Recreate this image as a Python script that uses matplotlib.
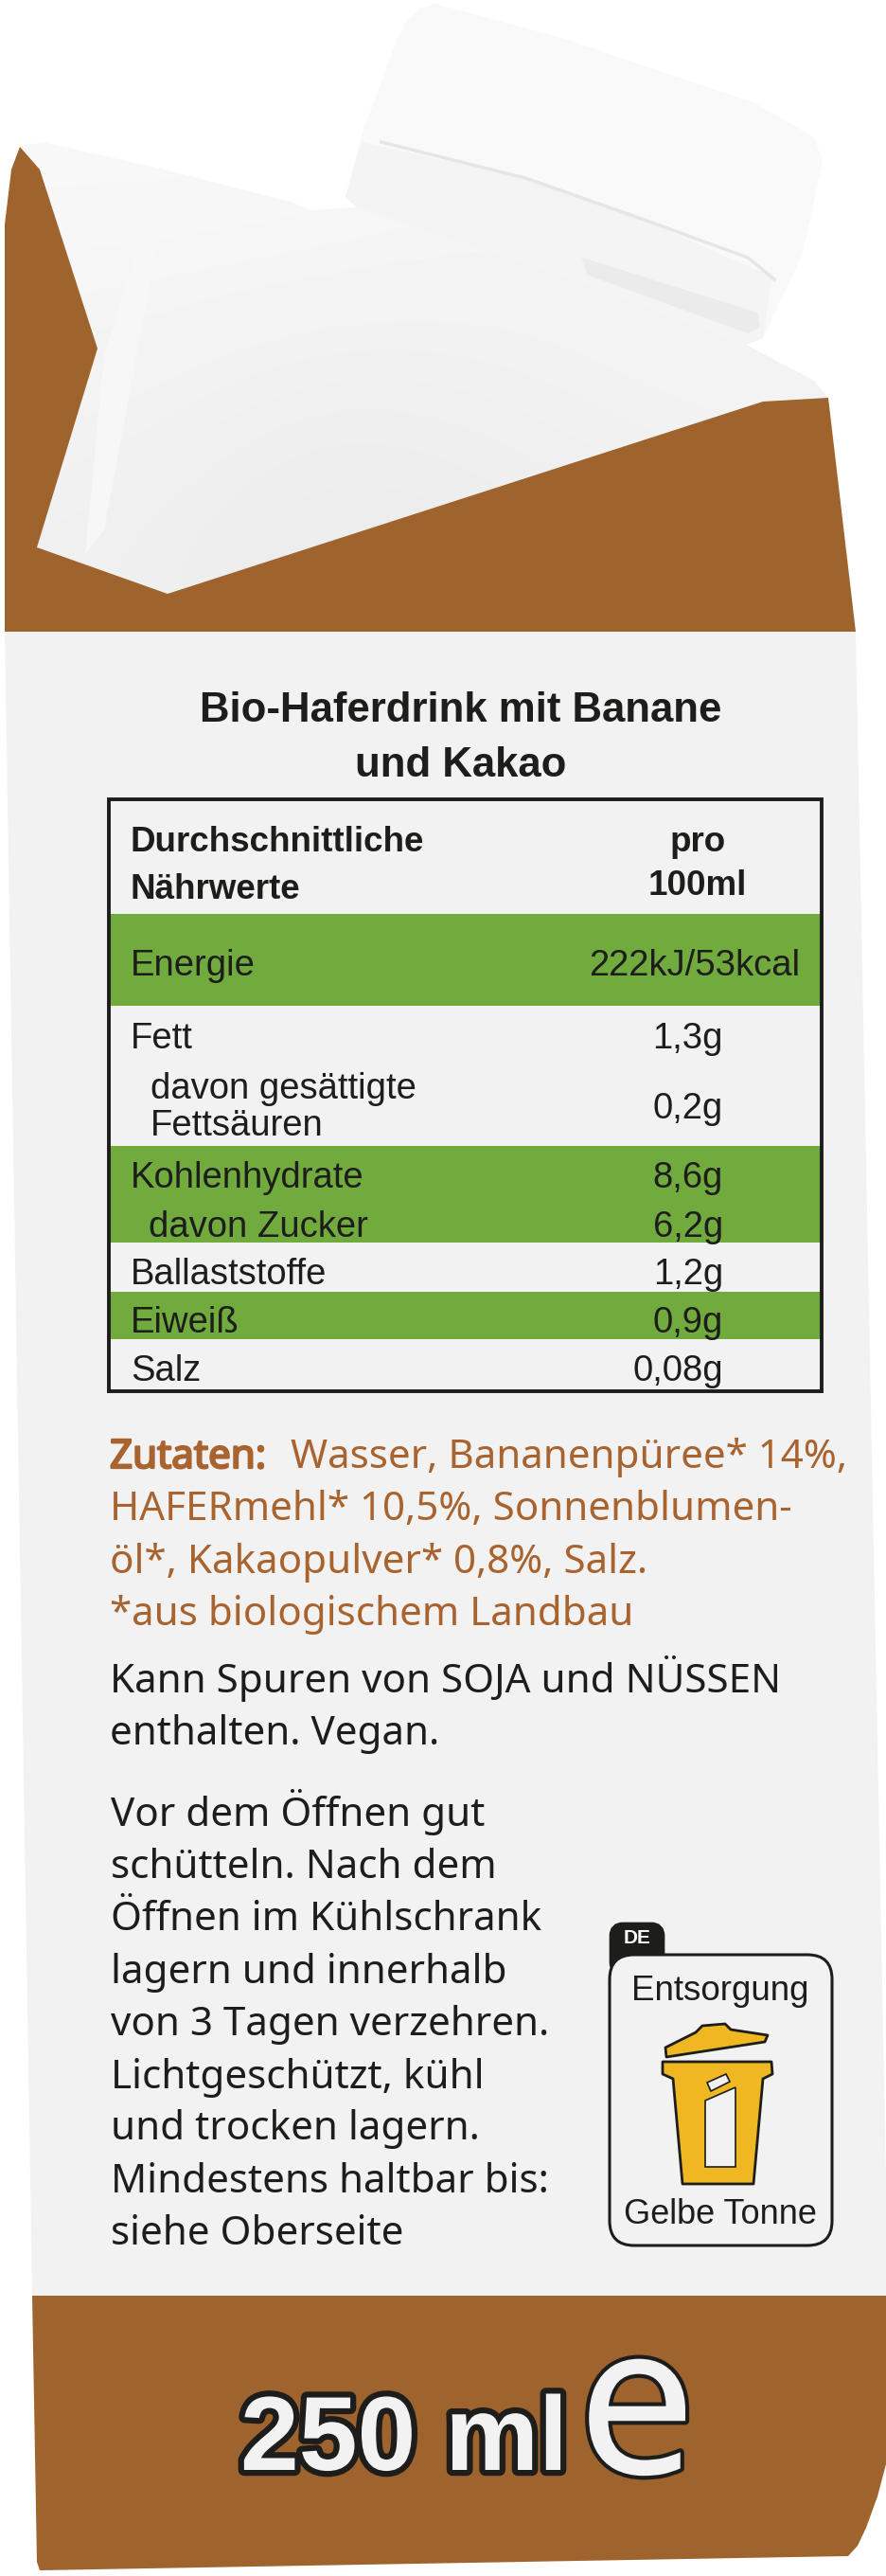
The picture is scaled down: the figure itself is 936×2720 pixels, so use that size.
import matplotlib
matplotlib.use("Agg")
import matplotlib.pyplot as plt
import matplotlib.patheffects as pe
from matplotlib.patches import Polygon, Rectangle, FancyBboxPatch

BROWN = "#9f632e"
GREEN = "#72ab3d"
DARK = "#1d1d1b"
BODY = "#f2f2f2"
ORANGE = "#a8632f"
YELLOW = "#efb722"

titel = ["Bio-Haferdrink mit Banane", "und Kakao"]
naehrwerte = ["Energie", "Fett", "Kohlenhydrate", "davon Zucker", "Ballaststoffe", "Eiweiß", "Salz"]
werte = ["222kJ/53kcal", "1,3g", "8,6g", "6,2g", "1,2g", "0,9g", "0,08g"]
zutaten = ["HAFERmehl* 10,5%, Sonnenblumen-", "öl*, Kakaopulver* 0,8%, Salz.", "*aus biologischem Landbau"]
hinweis = ["Kann Spuren von SOJA und NÜSSEN", "enthalten. Vegan."]
lagerung = ["Vor dem Öffnen gut", "schütteln. Nach dem", "Öffnen im Kühlschrank", "lagern und innerhalb",
            "von 3 Tagen verzehren.", "Lichtgeschützt, kühl", "und trocken lagern.",
            "Mindestens haltbar bis:", "siehe Oberseite"]

# pixel layout of the label (text baselines)
zeilen_y = [1030, 1107, 1254, 1306, 1356, 1407, 1458]
zeilen_x = [138, 138, 138, 157, 138, 138, 138]
gruen_von = [965, 1210, 1364]
gruen_bis = [1062, 1312, 1414]
zutaten_y = [1605, 1661, 1716]
hinweis_y = [1787, 1842]
lagerung_y = [1928, 1983, 2038, 2094, 2149, 2205, 2259, 2315, 2370]

# grey levels across the flap, top to bottom
flap_grau = [[0.97, 0.97, 0.96, 0.96],
             [0.96, 0.95, 0.95, 0.96],
             [0.95, 0.93, 0.94, 0.95],
             [0.94, 0.92, 0.93, 0.94]]

TAB = dict(family="Liberation Sans", fontsize=27.5, color=DARK)
KOPF = dict(family="Liberation Sans", weight="bold", fontsize=26.5, color=DARK)
TEXT = dict(family="Noto Sans", fontsize=30.3)

fig = plt.figure(figsize=(9.36, 27.2), dpi=100)
ax = fig.add_axes([0, 0, 1, 1])

# carton
ax.add_patch(Polygon([(21, 155), (12, 179), (5, 237), (5, 667), (904, 667), (875, 420), (300, 300)], fc=BROWN, ec="none"))
ax.add_patch(Polygon([(5, 667), (904, 667), (936, 2300), (936, 2424), (34, 2424)], fc=BODY, ec="none"))
ax.add_patch(Polygon([(34, 2424), (936, 2424), (936, 2602), (927, 2636), (915, 2669), (906, 2688), (896, 2699),
                      (42, 2714), (39, 2705)], fc=BROWN, ec="none"))

# top flap with soft shading
flap = Polygon([(21, 155), (45, 150), (170, 178), (310, 214), (328, 222), (377, 219), (500, 250), (620, 290), (788, 364),
                (860, 402), (875, 420), (806, 424), (177, 627), (39, 578), (103, 368), (42, 179)], fc="none", ec="none")
ax.add_patch(flap)
bild = ax.imshow(flap_grau, cmap="gray", vmin=0, vmax=1, extent=(20, 880, 630, 150), aspect="auto", interpolation="bicubic", zorder=1)
bild.set_clip_path(flap)
ax.add_patch(Polygon([(161, 210), (175, 212), (110, 560), (90, 585), (110, 375)], fc="#f7f7f7", ec="none", zorder=1.1))

# screw cap
ax.add_patch(Polygon([(365, 208), (382, 143), (420, 40), (430, 22), (445, 8), (460, 4), (600, 42), (800, 110), (860, 145),
                      (869, 170), (848, 268), (806, 357), (788, 364), (620, 300), (377, 219)], fc="#f9f9f9", ec="none", zorder=1.2))
ax.add_patch(Polygon([(382, 150), (555, 188), (675, 230), (815, 292), (806, 357), (788, 364), (620, 300), (377, 219), (365, 208)],
                     fc="#f4f4f4", ec="none", zorder=1.3))
ax.plot([403, 555, 675, 790, 818], [150, 188, 230, 272, 295], color="#e6e6e6", lw=2.5, zorder=1.4)
ax.add_patch(Polygon([(615, 272), (800, 330), (803, 345), (790, 352), (620, 290)], fc="#ebebeb", ec="none", zorder=1.4))

# title and table
for text, y in zip(titel, [762, 820]):
    ax.text(487, y, text, ha="center", va="baseline", family="Liberation Sans", weight="bold", fontsize=31.5, color=DARK)
for top, bottom in zip(gruen_von, gruen_bis):
    ax.add_patch(Rectangle((115, top), 753, bottom - top, fc=GREEN, ec="none"))
ax.add_patch(Rectangle((115, 844), 753, 625, fc="none", ec=DARK, lw=2.8))

ax.text(138, 899, "Durchschnittliche", va="baseline", **KOPF)
ax.text(138, 949, "Nährwerte", va="baseline", **KOPF)
ax.text(737, 899, "pro", ha="center", va="baseline", **KOPF)
ax.text(737, 945, "100ml", ha="center", va="baseline", **KOPF)

for name, x, y in zip(naehrwerte, zeilen_x, zeilen_y):
    ax.text(x, y, name, va="baseline", **TAB)
ax.text(159, 1160, "davon gesättigte", va="baseline", **TAB)
ax.text(159, 1199, "Fettsäuren", va="baseline", **TAB)
ax.text(845, zeilen_y[0], werte[0], ha="right", va="baseline", **TAB)
for wert, y in zip(werte[1:], zeilen_y[1:]):
    ax.text(764, y, wert, ha="right", va="baseline", **TAB)
ax.text(764, 1181, "0,2g", ha="right", va="baseline", **TAB)

# ingredients and notes
ax.text(116, 1550, "Zutaten:", va="baseline", color=ORANGE, path_effects=[pe.withStroke(linewidth=1.6, foreground=ORANGE)], **TEXT)
ax.text(307, 1550, "Wasser, Bananenpüree* 14%,", va="baseline", color=ORANGE, **TEXT)
for text, y in zip(zutaten, zutaten_y):
    ax.text(116, y, text, va="baseline", color=ORANGE, **TEXT)
for text, y in zip(hinweis, hinweis_y):
    ax.text(116, y, text, va="baseline", color=DARK, **TEXT)
for text, y in zip(lagerung, lagerung_y):
    ax.text(117, y, text, va="baseline", color=DARK, **TEXT)

# disposal sign
ax.add_patch(FancyBboxPatch((652, 2038), 42, 40, boxstyle="round,pad=0,rounding_size=6", fc=DARK, ec=DARK, lw=12, zorder=2))
ax.add_patch(FancyBboxPatch((644, 2064), 235, 307, boxstyle="round,pad=0,rounding_size=26", fc=BODY, ec=DARK, lw=2.2, zorder=3))
ax.text(673, 2047, "DE", ha="center", va="center", family="Liberation Sans", weight="bold", fontsize=15, color="white", zorder=4)
ax.text(761, 2112, "Entsorgung", ha="center", va="baseline", family="Liberation Sans", fontsize=26.5, color=DARK, zorder=4)
ax.text(761, 2348, "Gelbe Tonne", ha="center", va="baseline", family="Liberation Sans", fontsize=26, color=DARK, zorder=4)
ax.add_patch(Polygon([(703, 2162), (735, 2146), (742, 2139), (766, 2137), (772, 2143), (811, 2149), (808, 2156), (704, 2172)],
                     fc=YELLOW, ec=DARK, lw=2, joinstyle="round", zorder=4))
ax.add_patch(Polygon([(700, 2177), (815, 2177), (816, 2190), (806, 2195), (796, 2306), (721, 2306), (711, 2195), (700, 2190)],
                     fc=YELLOW, ec=DARK, lw=2, joinstyle="round", zorder=4))
ax.add_patch(Polygon([(745, 2218), (777, 2204), (777, 2288), (745, 2288)], fc=BODY, ec=DARK, lw=1.2, zorder=5))
ax.add_patch(Polygon([(747, 2199), (767, 2190), (771, 2198), (751, 2208)], fc=BODY, ec=DARK, lw=1.2, zorder=5))

# volume mark
ax.text(254, 2608, "250 ml", va="baseline", family="Liberation Sans", weight="bold", fontsize=80,
        color="#f2f2f2", path_effects=[pe.withStroke(linewidth=9, foreground=DARK)])
ax.text(610, 2612, "e", va="baseline", family="Noto Sans", fontsize=160, color="#f2f2f2",
        path_effects=[pe.withStroke(linewidth=6, foreground=DARK)])

ax.set_xlim(0, 936)
ax.set_ylim(2720, 0)
ax.axis("off")

fig.savefig("out.png", dpi=100, facecolor="white")
